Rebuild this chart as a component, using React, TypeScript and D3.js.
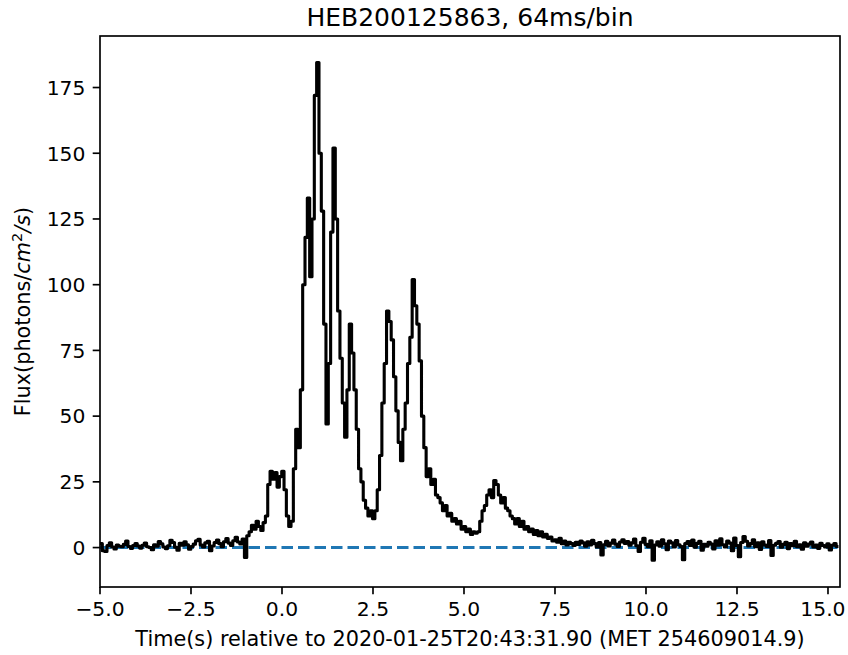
import React from "react";
import * as d3 from "d3";

const binStart = -5;
const binWidth = 0.064;

const fluxPre = [
  1.5, -1.2, -1.5, 0.8, 1.8, 0.2, -0.5, 1.0, 0.5, 0.3,
  1.2, 2.5, 0.4, -0.3, 0.8, 1.5, 0.6, -0.2, 0.9, 1.7,
  0.3, 0.0, -0.8, 1.1, 0.5, 2.3, 1.4, 0.2, -0.4, 0.7,
  2.8, 1.9, 0.1, -1.0, 1.6, 0.9, 2.2, 1.1, -0.6, 0.4,
  1.3, 2.6, 3.1, 1.0, 0.2, 1.8, 2.4, -1.2, 0.6, 1.9,
  2.9, 1.5, 0.3, 2.2, 3.4, 1.7, 0.8, 2.6, 3.9, 2.1,
  1.4, 3.2,
];

const fluxBurst = [
  -3.8, 4.5, 6.0, 8.5, 7.0, 10.0, 8.0, 6.5, 9.5, 12.0,
  24, 29, 26, 28.5, 23, 27, 29, 22, 12, 8,
  10, 30, 45, 38, 60, 100, 118, 133, 103, 125,
  172, 184.5, 150, 128, 85, 47, 70, 120, 152, 125,
  90, 72, 55, 42, 60, 85, 74, 60, 45, 30,
  25, 18, 15, 12, 14, 11, 14, 22, 35, 55,
  70, 90, 86, 79, 65, 52, 40, 33, 45, 55,
  70, 80, 102, 92, 85, 71, 50, 38, 27, 30,
  24, 26, 20, 19, 17, 14, 16, 12, 13, 10,
  11, 9, 10, 7, 8, 6, 7, 5, 6, 5.5,
  6, 10, 14, 16, 20, 22, 19, 25.5, 24, 20,
  17, 19, 15, 14, 12, 11, 9, 11, 8, 10,
  7, 8, 6, 7, 5, 6.5, 4.5, 6, 4, 5,
  3.5, 4, 2.5, 3, 2, 3.5, 1.5, 2.5, 1, 2,
  1.5, 0.8, 2,
];

const fluxTail = [
  1.2, 2.5, 1.8, 0.5, 2.2, 1.0, 2.8, 1.5, 0.2, 1.9,
  -2.8, 1.1, 2.4, 0.6, 1.7, 2.9, 1.3, 0.4, 2.1, 3.0,
  1.6, 2.3, 0.9, 1.8, 3.2, 0.7, -1.5, 2.0, 3.5, 1.2,
  0.3, 2.6, -4.8, 1.0, 2.2, 0.5, 3.0, 1.4, -0.8, 2.5,
  1.8, 0.2, 2.7, 1.1, 0.4, -4.6, 1.5, 2.3, 0.8, 2.9,
  0.1, 1.6, 2.4, -1.0, 1.2, 0.5, 2.0, 1.3, -0.5, 2.6,
  0.9, 3.3, 1.1, 0.2, 2.5, 1.7, -1.2, 3.6, 0.8, -3.5,
  1.9, 4.2, 2.4, 0.6, 1.5, 3.0, 0.3, 1.8, -0.7, 2.2,
  1.0, 0.4, 2.7, -3.0, 0.9, 1.6, 2.3, 0.1, 1.2, 2.0,
  -0.4, 1.5, 0.7, 2.4, 0.3, 1.1, -0.6, 1.8, 0.5, 1.3,
  2.1, 0.2, 1.0, -0.3, 1.6, 0.8, 0.2, 1.4, -0.9, 0.9,
  1.5, 0.4,
];

const xTicks = [-5, -2.5, 0, 2.5, 5, 7.5, 10, 12.5, 15];
const yTicks = [0, 25, 50, 75, 100, 125, 150, 175];
const titleText = "HEB200125863, 64ms/bin";
const xLabelText = "Time(s) relative to 2020-01-25T20:43:31.90 (MET 254609014.9)";

const W = 848;
const H = 655;
const L = 100;
const R = 840;
const T = 36;
const B = 587;
const FONT = "DejaVu Sans, sans-serif";
const FS = 20.3;
const TICK = 7.3;
const SW = 1.67;

export default function App() {
  const flux = [...fluxPre, ...fluxBurst, ...fluxTail];
  const pts: [number, number][] = flux.map((v, i) => [binStart + i * binWidth, v]);
  const tEnd = binStart + flux.length * binWidth;
  pts.push([tEnd, flux[flux.length - 1]]);

  const x = d3.scaleLinear().domain([-5, 15.33]).range([L, R]);
  const y = d3.scaleLinear().domain([-15, 194.6]).range([B, T]);

  const line = d3
    .line<[number, number]>()
    .x((d) => x(d[0]))
    .y((d) => y(d[1]))
    .curve(d3.curveStepAfter);

  const fmt = (v: number) => v.toFixed(1).replace("-", "\u2212");
  const labelX = (t: number) => {
    const half = (fmt(t).length * 0.58 * FS) / 2;
    return Math.min(x(t), W - half - 1.5);
  };

  return (
    <svg
      width={W}
      height={H}
      style={{ position: "absolute", left: 0, top: 0, background: "#fff" }}
      fontFamily={FONT}
    >
      <rect x={0} y={0} width={W} height={H} fill="#fff" />
      <defs>
        <clipPath id="plotclip">
          <rect x={L} y={T} width={R - L} height={B - T} />
        </clipPath>
      </defs>
      <g clipPath="url(#plotclip)">
        <line
          x1={x(binStart)}
          x2={x(tEnd)}
          y1={y(0)}
          y2={y(0)}
          stroke="#1f77b4"
          strokeWidth={3.1}
          strokeDasharray="11.5 5"
        />
        <path d={line(pts) || ""} fill="none" stroke="#000" strokeWidth={3.1} strokeLinejoin="round" />
      </g>
      <rect x={L} y={T} width={R - L} height={B - T} fill="none" stroke="#000" strokeWidth={SW} />
      {xTicks.map((t) => (
        <g key={"x" + t}>
          <line x1={x(t)} x2={x(t)} y1={B} y2={B + TICK} stroke="#000" strokeWidth={SW} />
          <text x={labelX(t)} y={B + 29} textAnchor="middle" fontSize={FS}>
            {fmt(t)}
          </text>
        </g>
      ))}
      {yTicks.map((t) => (
        <g key={"y" + t}>
          <line x1={L - TICK} x2={L} y1={y(t)} y2={y(t)} stroke="#000" strokeWidth={SW} />
          <text x={L - 14.6} y={y(t) + 7.3} textAnchor="end" fontSize={FS}>
            {t}
          </text>
        </g>
      ))}
      <text x={(L + R) / 2} y={26} textAnchor="middle" fontSize={25}>
        {titleText}
      </text>
      <text x={(L + R) / 2} y={646} textAnchor="middle" fontSize={20.8}>
        {xLabelText}
      </text>
      <text
        transform={`translate(30, ${(T + B) / 2}) rotate(-90)`}
        textAnchor="middle"
        fontSize={20.8}
      >
        <tspan>Flux(photons/</tspan>
        <tspan fontStyle="italic">cm</tspan>
        <tspan fontSize={14.5} dy={-8}>2</tspan>
        <tspan fontStyle="italic" dy={8}>/s</tspan>
        <tspan>)</tspan>
      </text>
    </svg>
  );
}
